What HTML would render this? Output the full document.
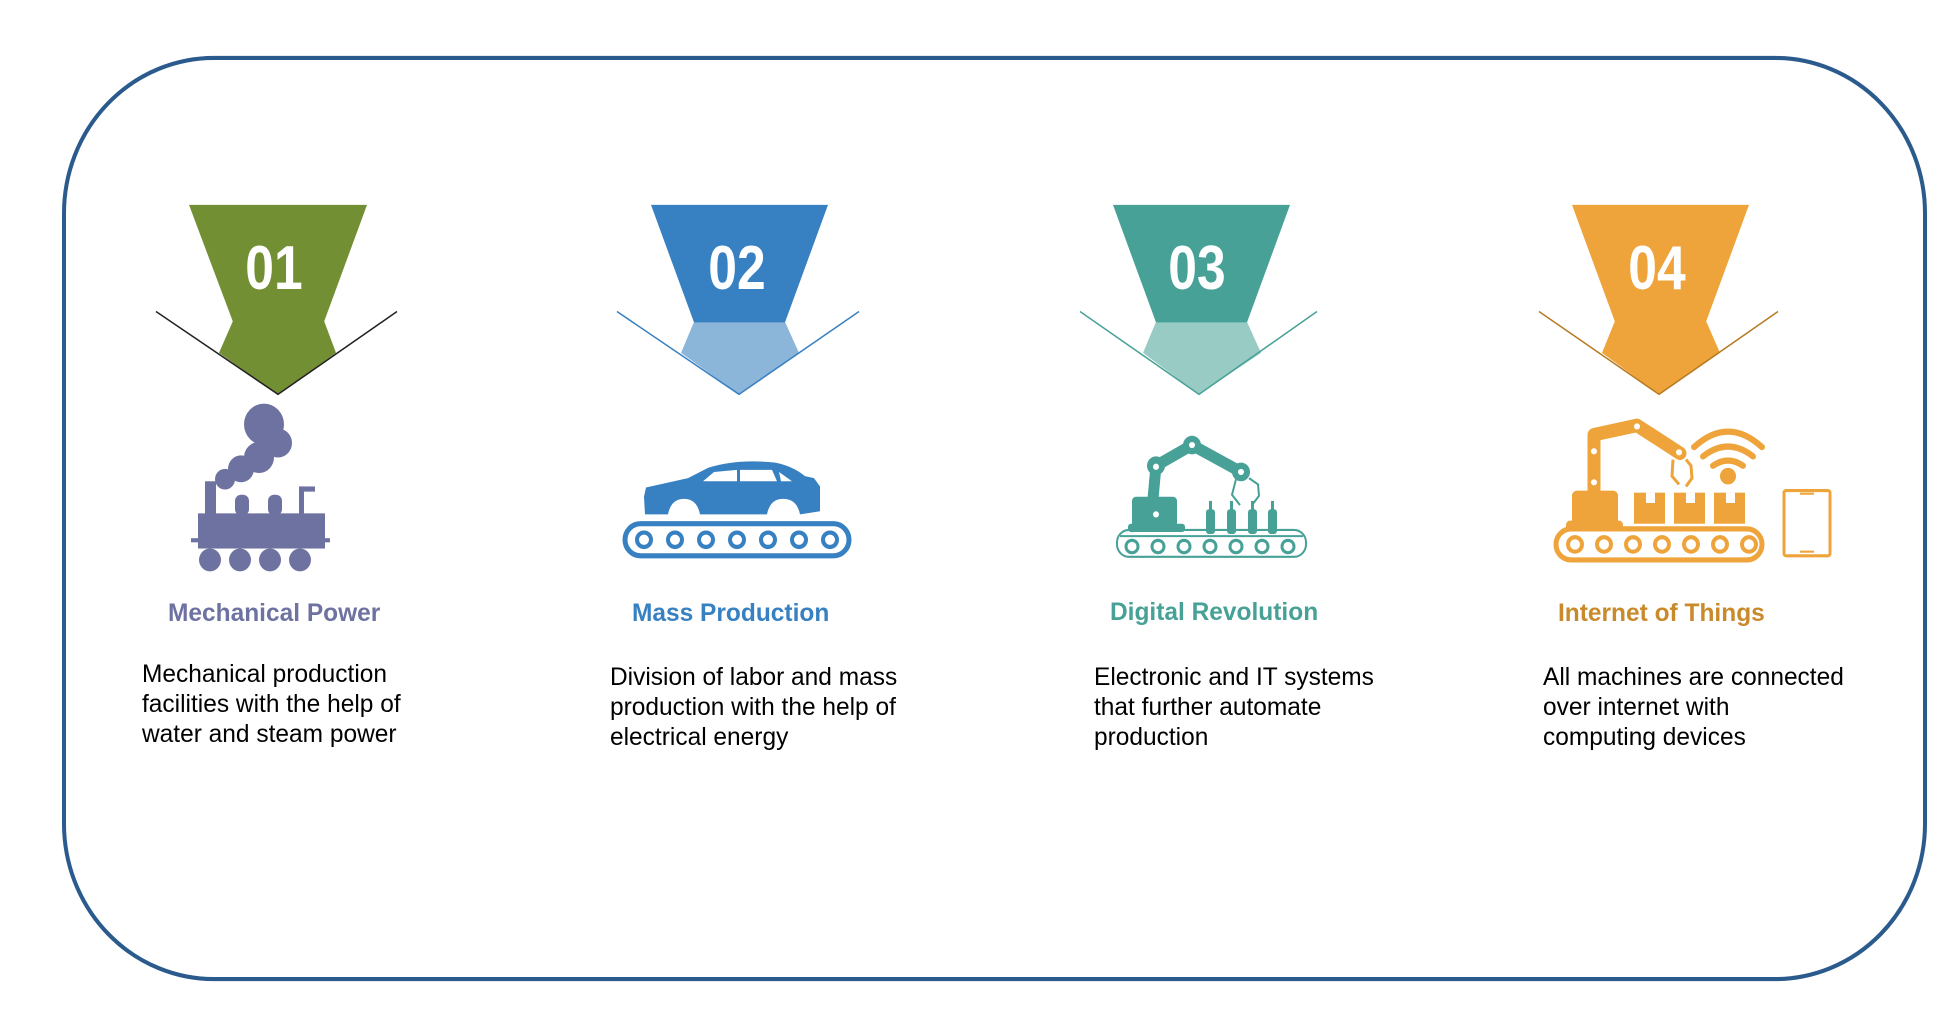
<!DOCTYPE html>
<html><head><meta charset="utf-8"><style>
html,body{margin:0;padding:0;background:#fff;width:1952px;height:1010px;overflow:hidden}
svg{display:block}
.num{font-family:"Liberation Sans",sans-serif;font-weight:bold;font-size:60px;fill:#fff;text-anchor:middle}
.tt{font-family:"Liberation Sans",sans-serif;font-weight:bold;font-size:24.5px}
.bd{font-family:"Liberation Sans",sans-serif;font-size:24.5px;fill:#000}
</style></head><body>
<svg width="1952" height="1010" viewBox="0 0 1952 1010">
<g transform="scale(1,1.035)">
<rect x="64" y="56" width="1861" height="890" rx="150" ry="150" fill="none" stroke="#2a5b8c" stroke-width="4"/>

<!-- col1 -->
<polygon points="233,310 324,310 336,341 278,381 219,341" fill="#728f33"/>
<polygon points="189,198 367,198 324,311 233,311" fill="#728f33"/>
<polyline points="156,301 278,381 397,301" fill="none" stroke="#222" stroke-width="1.5"/>
<text class="num" transform="translate(274,279) scale(0.86,1)">01</text>
<!-- col2 -->
<polygon points="694,311 785,311 799,341 739,381 681,341" fill="#8cb5da"/>
<polygon points="651,198 828,198 785,311.5 694,311.5" fill="#3780c1"/>
<polyline points="617,301 739,381 859,301" fill="none" stroke="#3780c1" stroke-width="1.5"/>
<text class="num" transform="translate(737,279) scale(0.86,1)">02</text>
<!-- col3 -->
<polygon points="1156,311 1247,311 1261,341 1199,381 1143,341" fill="#97cbc4"/>
<polygon points="1113,198 1290,198 1247,311.5 1156,311.5" fill="#47a197"/>
<polyline points="1080,301 1199,381 1317,301" fill="none" stroke="#47a197" stroke-width="1.5"/>
<text class="num" transform="translate(1197,279) scale(0.86,1)">03</text>
<!-- col4 -->
<polygon points="1615,310 1706,310 1720,341 1659,381 1602,341" fill="#eea43a"/>
<polygon points="1572,198 1749,198 1706,311 1615,311" fill="#eea43a"/>
<polyline points="1539,301 1659,381 1778,301" fill="none" stroke="#b57a22" stroke-width="1.5"/>
<text class="num" transform="translate(1657,279) scale(0.86,1)">04</text>

<!-- train -->
<g fill="#6e72a0">
<circle cx="264" cy="410" r="20"/><circle cx="278" cy="428" r="14"/><circle cx="259" cy="442" r="15"/><circle cx="241" cy="453" r="13"/><circle cx="225" cy="463" r="10"/>
<rect x="205" y="465" width="11" height="35"/>
<rect x="198" y="496" width="127" height="34"/>
<rect x="235" y="478" width="14" height="20" rx="6"/><rect x="268" y="478" width="14" height="20" rx="6"/>
<rect x="299" y="470" width="5" height="28"/><rect x="299" y="470" width="16" height="5"/>
<rect x="318" y="505" width="4" height="20"/><rect x="313" y="505" width="12" height="3"/>
<rect x="191" y="520" width="139" height="4"/>
<circle cx="210" cy="541" r="11"/><circle cx="240" cy="541" r="11"/><circle cx="270" cy="541" r="11"/><circle cx="300" cy="541" r="11"/>
</g>

<!-- car -->
<path fill="#3780c1" d="M646,471 L688,462 L708,452 Q738,443 775,447 Q792,450 805,460 L814,462 L820,470 L820,494 L800,497 Q797,482 783,482 Q770,482 767,497 L700,497 Q697,482 684,482 Q671,482 668,497 L645,497 L644,480 Z"/>
<g fill="#fff"><path d="M703,465 L714,456 L737,454 L737,465 Z"/><path d="M740,454 L772,454 L777,465 L740,465 Z"/><path d="M779,456 L792,465 L781,465 Z"/></g>
<rect x="625" y="506" width="224" height="31" rx="15.5" fill="none" stroke="#3780c1" stroke-width="5"/>
<g fill="none" stroke="#3780c1" stroke-width="4">
<circle cx="644" cy="521.5" r="7"/><circle cx="675" cy="521.5" r="7"/><circle cx="706" cy="521.5" r="7"/><circle cx="737" cy="521.5" r="7"/><circle cx="768" cy="521.5" r="7"/><circle cx="799" cy="521.5" r="7"/><circle cx="830" cy="521.5" r="7"/>
</g>

<!-- robot col3 -->
<g fill="#47a197">
<rect x="1132" y="480" width="45" height="30" rx="4"/>
<rect x="1128" y="506" width="57" height="8" rx="3"/>
<rect x="1206" y="492" width="9" height="24" rx="3"/><rect x="1209" y="484" width="3" height="10"/>
<rect x="1227" y="492" width="9" height="24" rx="3"/><rect x="1230" y="484" width="3" height="10"/>
<rect x="1248" y="492" width="9" height="24" rx="3"/><rect x="1251" y="484" width="3" height="10"/>
<rect x="1268" y="492" width="9" height="24" rx="3"/><rect x="1271" y="484" width="3" height="10"/>
</g>
<g stroke="#47a197" stroke-width="11" stroke-linecap="round" stroke-linejoin="round" fill="none">
<polyline points="1153,482 1156,450 1192,430 1241,456"/>
</g>
<g fill="#47a197"><circle cx="1156" cy="450" r="9"/><circle cx="1192" cy="430" r="9"/><circle cx="1241" cy="456" r="9"/></g>
<g fill="#fff"><circle cx="1156" cy="497" r="3"/><circle cx="1156" cy="451" r="3"/><circle cx="1192" cy="430" r="3"/><circle cx="1241" cy="456" r="3"/></g>
<g fill="none" stroke="#47a197" stroke-width="2"><path d="M1236,463 L1232,478 L1240,488"/><path d="M1249,462 L1258,468 L1259,479 L1252,488"/></g>
<rect x="1117" y="512" width="189" height="26" rx="12" fill="none" stroke="#47a197" stroke-width="2"/>
<line x1="1120" y1="518" x2="1303" y2="518" stroke="#47a197" stroke-width="2"/>
<g fill="none" stroke="#47a197" stroke-width="3">
<circle cx="1132" cy="528" r="6"/><circle cx="1158" cy="528" r="6"/><circle cx="1184" cy="528" r="6"/><circle cx="1210" cy="528" r="6"/><circle cx="1236" cy="528" r="6"/><circle cx="1262" cy="528" r="6"/><circle cx="1288" cy="528" r="6"/>
</g>

<!-- IoT col4 -->
<g fill="#eea43a">
<rect x="1572" y="474" width="46" height="34" rx="5"/>
<rect x="1566" y="503" width="57" height="9" rx="4"/>
<rect x="1634" y="476" width="31" height="30"/>
<rect x="1674" y="476" width="31" height="30"/>
<rect x="1714" y="476" width="31" height="30"/>
<circle cx="1728" cy="460" r="8"/>
</g>
<g fill="#fff"><rect x="1646" y="476" width="9" height="10"/><rect x="1686" y="476" width="9" height="10"/><rect x="1726" y="476" width="9" height="10"/></g>
<g stroke="#eea43a" stroke-width="13" stroke-linecap="round" stroke-linejoin="round" fill="none">
<polyline points="1594,476 1594,420 1637,411 1680,438"/>
</g>
<g fill="#fff"><circle cx="1594" cy="466" r="3"/><circle cx="1594" cy="436" r="3"/><circle cx="1637" cy="412" r="3"/><circle cx="1679" cy="437" r="3"/></g>
<g fill="none" stroke="#eea43a" stroke-width="3"><path d="M1673,444 L1672,460 L1679,468"/><path d="M1686,444 L1691,450 L1692,462 L1686,470"/></g>
<g fill="none" stroke="#eea43a" stroke-width="6" stroke-linecap="round">
<path d="M1694,432 Q1728,402 1762,432"/><path d="M1703,441 Q1728,422 1753,441"/><path d="M1713,450 Q1728,440 1743,450"/>
</g>
<rect x="1556" y="511" width="206" height="30" rx="15" fill="none" stroke="#eea43a" stroke-width="5"/>
<g fill="none" stroke="#eea43a" stroke-width="4">
<circle cx="1575" cy="526" r="7"/><circle cx="1604" cy="526" r="7"/><circle cx="1633" cy="526" r="7"/><circle cx="1662" cy="526" r="7"/><circle cx="1691" cy="526" r="7"/><circle cx="1720" cy="526" r="7"/><circle cx="1749" cy="526" r="7"/>
</g>
<rect x="1784" y="474" width="46" height="63" rx="2" fill="none" stroke="#eea43a" stroke-width="3"/>
<rect x="1800" y="476" width="14" height="2" fill="#eea43a"/>
<rect x="1800" y="532" width="14" height="2" fill="#eea43a"/>

<!-- titles -->
<text class="tt" x="168" y="600" fill="#6e72a0">Mechanical Power</text>
<text class="tt" x="632" y="600" fill="#3780c1">Mass Production</text>
<text class="tt" x="1110" y="599" fill="#47a197">Digital Revolution</text>
<text class="tt" x="1558" y="600" fill="#c98a2c">Internet of Things</text>

<!-- bodies -->
<text class="bd" x="142" y="659">Mechanical production</text>
<text class="bd" x="142" y="688">facilities with the help of</text>
<text class="bd" x="142" y="717">water and steam power</text>
<text class="bd" x="610" y="662">Division of labor and mass</text>
<text class="bd" x="610" y="691">production with the help of</text>
<text class="bd" x="610" y="720">electrical energy</text>
<text class="bd" x="1094" y="662">Electronic and IT systems</text>
<text class="bd" x="1094" y="691">that further automate</text>
<text class="bd" x="1094" y="720">production</text>
<text class="bd" x="1543" y="662">All machines are connected</text>
<text class="bd" x="1543" y="691">over internet with</text>
<text class="bd" x="1543" y="720">computing devices</text>
</g>
</svg>
</body></html>
